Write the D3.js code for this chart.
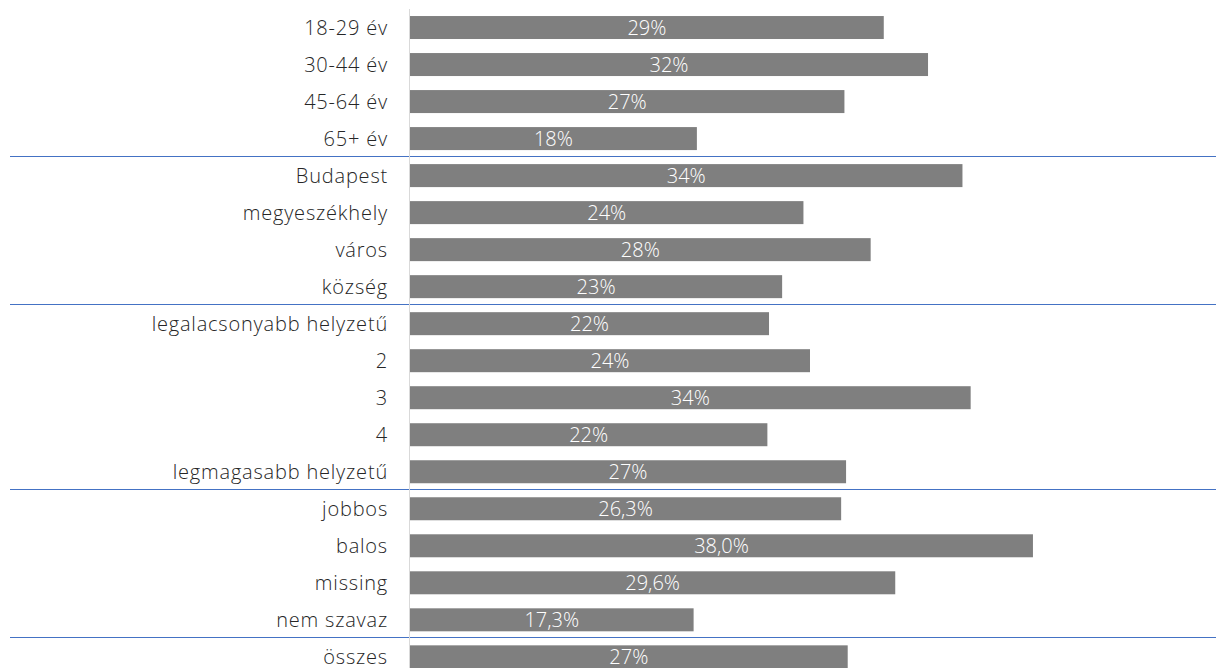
<!DOCTYPE html>
<html>
<head>
<meta charset="utf-8">
<script src="https://cdn.jsdelivr.net/npm/d3@7"></script>
<style>
  html, body { margin: 0; padding: 0; background: #fff; }
  svg { display: block; }
  text { font-family: "Open Sans", "Noto Sans", sans-serif; font-weight: 300; }
</style>
</head>
<body>
<svg id="chart" width="1216" height="668"></svg>
<script>
const categories = [
  "18-29 év", "30-44 év", "45-64 év", "65+ év",
  "Budapest", "megyeszékhely", "város", "község",
  "legalacsonyabb helyzetű", "2", "3", "4", "legmagasabb helyzetű",
  "jobbos", "balos", "missing", "nem szavaz",
  "összes"
];
const values = [
  28.9, 31.6, 26.5, 17.5,
  33.7, 24.0, 28.1, 22.7,
  21.9, 24.4, 34.2, 21.8, 26.6,
  26.3, 38.0, 29.6, 17.3,
  26.7
];
// decimals shown in the data labels
const labelDecimals = [
  0, 0, 0, 0,
  0, 0, 0, 0,
  0, 0, 0, 0, 0,
  1, 1, 1, 1,
  0
];
// group separators: after these category indices
const separatorsAfter = [3, 7, 12, 16];

const W = 1216, H = 668;
const svg = d3.select("#chart");

const x = d3.scaleLinear().domain([0, 48.8]).range([410, 1210]);
const y = d3.scaleBand().domain(categories).range([9, 9 + 18 * 37.02])
  .paddingInner(0.379).paddingOuter(0.19);

const fmt = (v, d) => v.toFixed(d).replace(".", ",") + "%";

// separators
svg.append("g").selectAll("line").data(separatorsAfter).join("line")
  .attr("x1", 10).attr("x2", W)
  .attr("y1", i => Math.round(y(categories[i + 1]) - y.step() * y.paddingInner() / 2) - 0.5)
  .attr("y2", i => Math.round(y(categories[i + 1]) - y.step() * y.paddingInner() / 2) - 0.5)
  .attr("stroke", "#4472C4").attr("stroke-width", 1);

// bars
svg.append("g").selectAll("rect").data(values).join("rect")
  .attr("x", x(0))
  .attr("y", (d, i) => y(categories[i]))
  .attr("width", d => x(d) - x(0))
  .attr("height", y.bandwidth())
  .attr("fill", "#7f7f7f");

// axis line
svg.append("line")
  .attr("x1", x(0) - 0.5).attr("x2", x(0) - 0.5)
  .attr("y1", 9).attr("y2", H)
  .attr("stroke", "#d9d9d9").attr("stroke-width", 1);

// category labels
svg.append("g").selectAll("text").data(categories).join("text")
  .attr("x", 388)
  .attr("y", d => y(d) + y.bandwidth() / 2)
  .attr("dy", "0.36em")
  .attr("text-anchor", "end")
  .attr("font-size", 20)
  .attr("letter-spacing", "0.8px")
  .attr("fill", "#262626")
  .text(d => d);

// value labels
svg.append("g").selectAll("text").data(values).join("text")
  .attr("x", d => (x(0) + x(d)) / 2)
  .attr("y", (d, i) => y(categories[i]) + y.bandwidth() / 2)
  .attr("dy", "0.36em")
  .attr("text-anchor", "middle")
  .attr("font-size", 20)
  .attr("fill", "#ffffff")
  .text((d, i) => fmt(d, labelDecimals[i]));
</script>
</body>
</html>
